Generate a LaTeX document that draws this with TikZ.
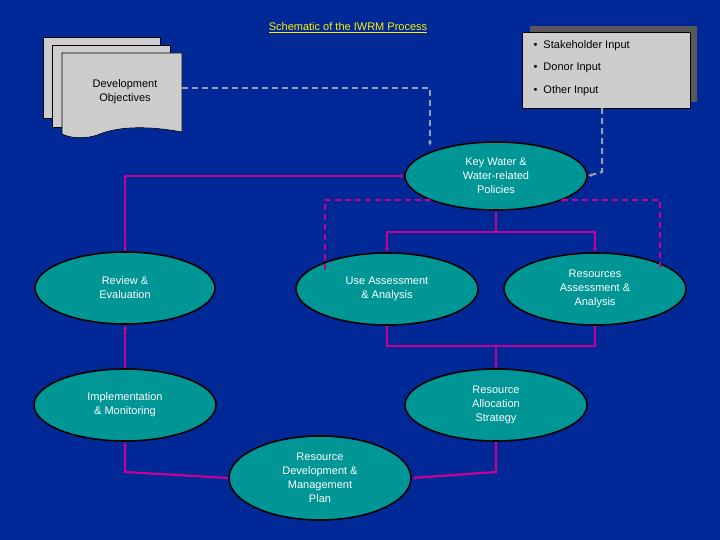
\documentclass[tikz,border=0pt]{standalone}
\usepackage{fontspec}
\setmainfont{Liberation Sans}
\usetikzlibrary{shapes.geometric,arrows.meta}
\definecolor{bg}{RGB}{0,40,150}
\definecolor{teal1}{RGB}{0,150,150}
\definecolor{mag}{RGB}{200,0,150}
\definecolor{pg}{RGB}{205,205,205}
\definecolor{lnk}{RGB}{150,160,180}
\begin{document}
\begin{tikzpicture}[x=1pt,y=-1pt,
  ell/.style={ellipse,draw=black,line width=1.6pt,fill=teal1,text=white,align=center,font=\fontsize{11}{14}\selectfont,inner sep=0pt},
  flow/.style={draw=mag,line width=2.2pt,-{Latex[length=4pt,width=4pt]}},
  dflow/.style={flow,dash pattern=on 6pt off 4pt},
  gflow/.style={draw=lnk,line width=2pt,dash pattern=on 6pt off 4pt,-{Latex[length=4pt,width=4pt]}},
  page/.style={draw=black,line width=0.6pt,fill=pg}]
\fill[bg] (0,0) rectangle (720,540);
\useasboundingbox (0,0) rectangle (720,540);
\node[text=yellow,font=\fontsize{11}{13}\selectfont] (title) at (348,28) {\underline{Schematic of the IWRM Process}};
% document stack
\draw[page] (43,37) rectangle (160,118);
\draw[page] (52,45) rectangle (170,127);
\draw[page] (62,53) -- (182,53) -- (182,132) .. controls (150,126) and (120,126) .. (100,134) .. controls (85,140) and (70,138) .. (62,134) -- cycle;
\node[font=\fontsize{11}{14}\selectfont,align=center,inner sep=0pt] (dev) at (125,92) {Development\\Objectives};
\coordinate (devE) at (182,88);
% input box
\fill[gray!70!black] (530,26) rectangle (697,102);
\node[draw=black,fill=pg,minimum width=168pt,minimum height=76pt,inner sep=0pt] (inp) at (606,70) {};
\node[align=left,font=\fontsize{11}{22.5}\selectfont,anchor=west] at (530,68) {\textbullet\ \ Stakeholder Input\\\textbullet\ \ Donor Input\\\textbullet\ \ Other Input};
% ellipses
\node[ell,minimum width=182pt,minimum height=68pt] (key) at (496,176) {Key Water \&\\Water-related\\Policies};
\node[ell,minimum width=180pt,minimum height=72pt] (rev) at (125,288) {Review \&\\Evaluation};
\node[ell,minimum width=182pt,minimum height=72pt] (use) at (387,289) {Use Assessment\\\& Analysis};
\node[ell,minimum width=182pt,minimum height=72pt] (res) at (595,289) {Resources\\Assessment \&\\Analysis};
\node[ell,minimum width=182pt,minimum height=72pt] (imp) at (125,405) {Implementation\\\& Monitoring};
\node[ell,minimum width=182pt,minimum height=72pt] (all) at (496,405) {Resource\\Allocation\\Strategy};
\node[ell,minimum width=182pt,minimum height=84pt] (rdm) at (320,478) {Resource\\Development \&\\Management\\Plan};
% gray dashed inputs
\draw[gflow] (devE) -- (430,88) -- (430,146);
\draw[gflow] (inp.south -| 602,0) -- (602,172) -- (key.east);
% magenta flows
\draw[flow] (rev.north) -- (125,176) -- (key.west);
\draw[draw=mag,line width=2.2pt] (key.south) -- (496,232);
\draw[flow] (387,232) -- (595,232) (387,230.9) -- (use.north);
\draw[flow] (595,230.9) -- (res.north);
\draw[dflow] (325,270) -- (325,200) -- (432,200);
\draw[dflow] (660,268) -- (660,200) -- (560,200);
\draw[draw=mag,line width=2.2pt] (use.south) -- (387,346) -- (595,346) -- (res.south);
\draw[flow] (496,346) -- (all.north);
\draw[flow] (all.south) -- (496,472) -- (rdm.east);
\draw[flow] (rdm.west) -- (125,472) -- (imp.south);
\draw[flow] (imp.north) -- (rev.south);
\end{tikzpicture}
\end{document}
